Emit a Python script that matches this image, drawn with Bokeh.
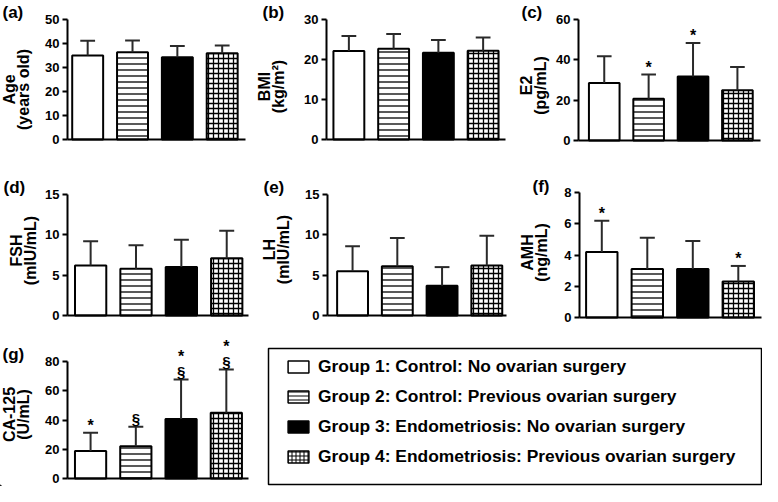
import math
from bokeh.plotting import figure
from bokeh.models import (Range1d, FixedTicker, Label, Legend, LegendItem, ColumnDataSource,
                          LinearAxis, BoxAnnotation)
from bokeh.embed import file_html
from bokeh.resources import INLINE
from bokeh.core.properties import value

FONT = "Liberation Sans"
FONT_V = value(FONT)
CW, CH = 762, 486

groups = [
    "Group 1: Control: No ovarian surgery",
    "Group 2: Control: Previous ovarian surgery",
    "Group 3: Endometriosis: No ovarian surgery",
    "Group 4: Endometriosis: Previous ovarian surgery",
]
x_pos = [1, 2, 3, 4]

age_mean = [35.0, 36.4, 34.3, 35.9]
age_sd = [6.1, 4.9, 4.7, 3.3]
bmi_mean = [22.1, 22.7, 21.7, 22.2]
bmi_sd = [3.8, 3.7, 3.2, 3.3]
e2_mean = [28.5, 20.7, 31.7, 24.9]
e2_sd = [13.3, 12.0, 16.7, 11.6]
fsh_mean = [6.2, 5.8, 6.0, 7.1]
fsh_sd = [3.0, 2.9, 3.4, 3.4]
lh_mean = [5.5, 6.1, 3.7, 6.2]
lh_sd = [3.1, 3.5, 2.3, 3.7]
amh_mean = [4.2, 3.1, 3.1, 2.3]
amh_sd = [2.0, 2.0, 1.8, 1.0]
ca125_mean = [18.8, 22.0, 40.6, 45.0]
ca125_sd = [12.5, 13.3, 27.1, 29.6]

e2_star = ["", "*", "*", ""]
amh_star = ["*", "", "", "*"]
ca125_star = ["*", "", "*", "*"]
ca125_sect = ["", "§", "§", "§"]

fills = ["white", "white", "black", "white"]
hatches = [" ", "-", " ", "+"]
hatch_scales = [6, 6, 6, 5]

p = figure(frame_width=CW, frame_height=CH, min_border=0, title=None,
           x_range=Range1d(0, CW), y_range=Range1d(0, CH),
           x_axis_location=None, y_axis_location=None,
           toolbar_location=None, output_backend="svg")
p.grid.visible = False
p.xgrid.visible = False
p.ygrid.visible = False
p.outline_line_color = None
p.extra_x_ranges = {}
p.extra_y_ranges = {}


def add_panel(name, tag, lab1, lab2, mean, sd, ymax, ystep, xr, L, R, T, B,
              tag_xy, l1x, l2x, ly, stars=None, sects=None):
    """L,R,T,B: plot-area edges on the canvas (pixels, from top-left)."""
    xs, xe = xr
    sx = (R - L) / (xe - xs)
    sy = (B - T) / ymax
    p.extra_x_ranges[name] = Range1d(xs - L / sx, xe + (CW - R) / sx)
    p.extra_y_ranges[name] = Range1d(-(CH - B) / sy, ymax + T / sy)
    rn = dict(x_range_name=name, y_range_name=name)

    yax = LinearAxis(fixed_location=xs, bounds=(0, ymax),
                     ticker=FixedTicker(ticks=list(range(0, ymax + 1, ystep))), **rn)
    yax.axis_line_width = 2
    yax.axis_line_color = "black"
    yax.major_tick_line_width = 2
    yax.major_tick_line_color = "black"
    yax.major_tick_out = 5
    yax.major_tick_in = 0
    yax.minor_tick_line_color = None
    yax.major_label_text_font = FONT
    yax.major_label_text_font_style = "bold"
    yax.major_label_text_font_size = "13px"
    yax.major_label_text_color = "black"
    yax.major_label_standoff = 3
    p.add_layout(yax, "left")

    xax = LinearAxis(fixed_location=0, bounds=(xs, xe), ticker=FixedTicker(ticks=[]), **rn)
    xax.axis_line_width = 2
    xax.axis_line_color = "black"
    xax.major_tick_line_color = None
    xax.minor_tick_line_color = None
    xax.major_label_text_font_size = "0px"
    p.add_layout(xax, "below")

    top = [m + s for m, s in zip(mean, sd)]
    src = ColumnDataSource(dict(x=x_pos, mean=mean, top=top,
                                x0=[x - 0.165 for x in x_pos], x1=[x + 0.165 for x in x_pos],
                                fill=fills, hatch=hatches, hscale=hatch_scales))
    p.vbar(x="x", top="mean", width=0.69, source=src, fill_color="fill", line_color="black",
           line_width=2, hatch_pattern="hatch", hatch_color="black", hatch_scale="hscale",
           hatch_weight=1.3, **rn)
    p.segment(x0="x", y0="mean", x1="x", y1="top", source=src, line_color="#2a2a2a",
              line_width=2, **rn)
    p.segment(x0="x0", y0="top", x1="x1", y1="top", source=src, line_color="#2a2a2a",
              line_width=2, **rn)

    if sects is not None:
        p.text(x=x_pos, y=top, text=sects, text_align="center", text_baseline="alphabetic",
               y_offset=-8, text_font=FONT_V, text_font_style="bold", text_font_size="15px",
               text_color="black", **rn)
    if stars is not None:
        offs = [(-23 if (sects is not None and sects[i]) else -7) for i in range(4)]
        p.text(x=x_pos, y=top, text=stars, text_align="center", text_baseline="alphabetic",
               y_offset=offs, text_font=FONT_V, text_font_style="bold", text_font_size="16px",
               text_color="black", **rn)

    p.add_layout(Label(x=tag_xy[0], y=CH - tag_xy[1], text=tag, text_font=FONT,
                       text_font_style="bold", text_font_size="17px", text_align="left",
                       text_baseline="middle", text_color="black"))
    for lx, t in ((l1x, lab1), (l2x, lab2)):
        p.add_layout(Label(x=lx, y=CH - ly, text=t, angle=math.pi / 2, text_font=FONT,
                           text_font_style="bold", text_font_size="16px", text_align="center",
                           text_baseline="middle", text_color="black"))


add_panel("a", "(a)", "Age", "(years old)", age_mean, age_sd, 50, 10, (0.55, 4.52),
          67, 245, 19, 139, (2, 11.5), 9, 23, 89)
add_panel("b", "(b)", "BMI", "(kg/m²)", bmi_mean, bmi_sd, 30, 10, (0.5, 4.5),
          326, 505, 19, 139, (262, 11.5), 264, 278, 86)
add_panel("c", "(c)", "E2", "(pg/mL)", e2_mean, e2_sd, 60, 20, (0.42, 4.52),
          578, 760, 19, 140, (521, 11.5), 526, 540, 85, stars=e2_star)

add_panel("d", "(d)", "FSH", "(mIU/mL)", fsh_mean, fsh_sd, 15, 5, (0.49, 4.48),
          67, 248, 194, 315, (3, 186.5), 16, 30, 250)
add_panel("e", "(e)", "LH", "(mIU/mL)", lh_mean, lh_sd, 15, 5, (0.44, 4.44),
          327, 506, 194, 315, (263, 186.5), 269, 283, 249)
add_panel("f", "(f)", "AMH", "(ng/mL)", amh_mean, amh_sd, 8, 2, (0.51, 4.51),
          579, 761, 192, 317, (532, 185.5), 527, 541, 252, stars=amh_star)

add_panel("g", "(g)", "CA-125", "(U/mL)", ca125_mean, ca125_sd, 80, 20, (0.49, 4.49),
          67, 248, 361, 478, (2, 354), 9, 23, 414, stars=ca125_star, sects=ca125_sect)

# legend box
p.add_layout(BoxAnnotation(left=268, right=761, top=CH - 348, bottom=CH - 484,
                           fill_color=None, fill_alpha=0, line_color="black", line_alpha=1,
                           line_width=1.5))
items = []
for i in range(4):
    r = p.vbar(x=[-1000], top=[1], width=1, fill_color=fills[i], line_color="black",
               line_width=1.5, hatch_pattern=hatches[i], hatch_color="black", hatch_scale=4,
               hatch_weight=1)
    items.append(LegendItem(label=groups[i], renderers=[r]))
legend = Legend(items=items, location=(285, 19), border_line_color=None, background_fill_alpha=0,
                padding=0, margin=0, spacing=9, glyph_width=26, glyph_height=15, label_standoff=7,
                label_height=20, label_text_font=FONT, label_text_font_style="bold",
                label_text_font_size="17.4px", label_text_color="black")
p.add_layout(legend)

open("out.html", "w").write(file_html(p, INLINE))
